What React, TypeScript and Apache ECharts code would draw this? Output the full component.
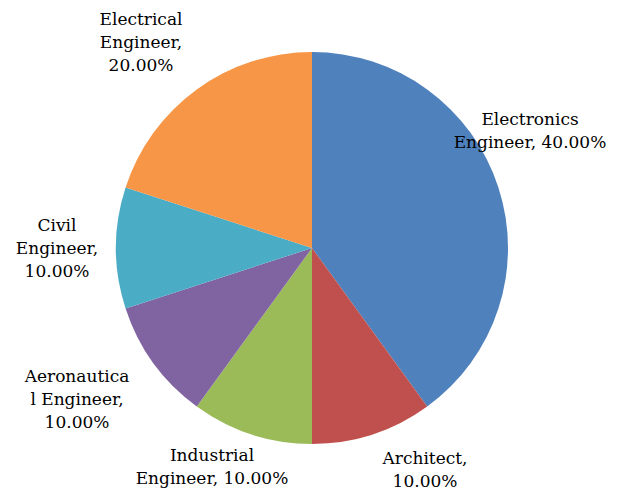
import React, { useEffect, useRef } from "react";
import * as echarts from "echarts";

const categories = [
  "Electronics\nEngineer",
  "Architect",
  "Industrial\nEngineer",
  "Aeronautica\nl Engineer",
  "Civil\nEngineer",
  "Electrical\nEngineer",
];
const values = [40, 10, 10, 10, 10, 20];
const colors = ["#4F81BD", "#C0504D", "#9BBB59", "#8064A2", "#4BACC6", "#F79646"];
// label joiner: how the percentage attaches to the name
const joiners = [", ", ",\n", ", ", ",\n", ",\n", ",\n"];
const labelPos: [number, number][] = [
  [530, 130],
  [425, 469],
  [212, 466],
  [77, 399],
  [57, 248],
  [141, 42],
];

const FONT = "DejaVu Serif";

export default function App() {
  const ref = useRef<HTMLDivElement>(null);
  useEffect(() => {
    if (!ref.current) return;
    const chart = echarts.init(ref.current, undefined, { renderer: "svg" });
    const total = values.reduce((a, b) => a + b, 0);
    chart.setOption({
      animation: false,
      backgroundColor: "#ffffff",
      textStyle: { fontFamily: FONT },
      series: [
        {
          type: "pie",
          center: [312, 248],
          radius: 196,
          startAngle: 90,
          clockwise: true,
          data: categories.map((c, i) => ({
            name: c,
            value: values[i],
            itemStyle: { color: colors[i] },
          })),
          itemStyle: { borderWidth: 0 },
          label: {
            show: true,
            position: "outside",
            color: "#000000",
            fontFamily: FONT,
            fontSize: 17,
            lineHeight: 23,
            align: "center",
            overflow: "none",
            width: 300,
            formatter: (p: any) => {
              const idx = p.dataIndex;
              const pct = ((values[idx] / total) * 100).toFixed(2) + "%";
              const lines = categories[idx].split("\n");
              const last = lines.pop();
              const head = lines.length ? lines.join("\n") + "\n" : "";
              return head + last + joiners[idx] + pct;
            },
          },
          labelLine: { show: false },
          labelLayout: (params: any) => {
            const pos = labelPos[params.dataIndex];
            return { x: pos[0], y: pos[1], align: "center", verticalAlign: "middle" };
          },
          emphasis: { disabled: true },
        },
      ],
    });
    return () => chart.dispose();
  }, []);
  return (
    <div
      ref={ref}
      style={{ position: "fixed", left: 0, top: 0, width: 620, height: 491 }}
    />
  );
}
